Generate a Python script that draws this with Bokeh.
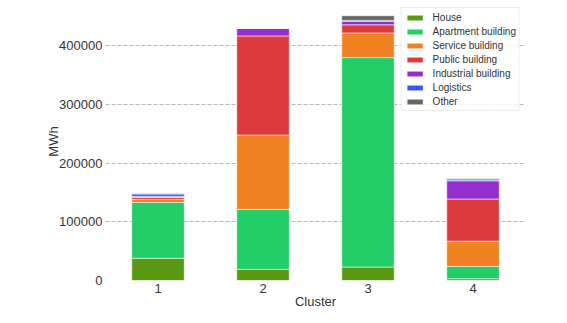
from bokeh.plotting import figure
from bokeh.models import FactorRange, Range1d, NumeralTickFormatter, SingleIntervalTicker, Legend, LegendItem
from bokeh.embed import file_html
from bokeh.resources import INLINE

clusters = ["1", "2", "3", "4"]
house = [38000, 19000, 23000, 3000]
apartment = [95000, 102000, 357000, 21000]
service = [5500, 127000, 42000, 43000]
public = [3000, 169000, 14000, 72000]
industrial = [2000, 13000, 6000, 31000]
logistics = [4000, 0, 1500, 1500]
other = [1000, 0, 8000, 2000]

series_names = ["House", "Apartment building", "Service building", "Public building",
                "Industrial building", "Logistics", "Other"]
keys = ["house", "apartment", "service", "public", "industrial", "logistics", "other"]
colors = ["#5a9a12", "#22cc66", "#f08222", "#dc3a3c", "#942ecc", "#3258ee", "#666666"]

data = dict(cluster=clusters, house=house, apartment=apartment, service=service,
            public=public, industrial=industrial, logistics=logistics, other=other)

FONT = "Liberation Sans"
TXT = "#333333"

p = figure(x_range=FactorRange(*clusters), y_range=Range1d(0, 474000),
           frame_width=420, frame_height=278, width=559, height=315,
           min_border_left=105, min_border_top=2, min_border_right=34, min_border_bottom=35,
           output_backend="svg", toolbar_location=None)

renderers = p.vbar_stack(keys, x="cluster", width=0.5, color=colors, source=data,
                         line_color="white", line_width=0.8, line_alpha=0.7)

p.xgrid.grid_line_color = None
p.ygrid.grid_line_color = "#b8b8b8"
p.ygrid.grid_line_dash = "4 2"
p.ygrid.grid_line_width = 1
p.outline_line_color = None

for ax in (p.xaxis[0], p.yaxis[0]):
    ax.axis_line_color = None
    ax.major_tick_line_color = None
    ax.minor_tick_line_color = None
    ax.major_label_text_font = FONT
    ax.major_label_text_font_size = "13px"
    ax.major_label_text_color = TXT
    ax.axis_label_text_font = FONT
    ax.axis_label_text_font_size = "13px"
    ax.axis_label_text_color = TXT
    ax.axis_label_text_font_style = "normal"

p.yaxis[0].ticker = SingleIntervalTicker(interval=100000)
p.yaxis[0].formatter = NumeralTickFormatter(format="0")
p.yaxis[0].axis_label = "MWh"
p.yaxis[0].major_label_standoff = -3
p.yaxis[0].axis_label_standoff = -5
p.xaxis[0].axis_label = "Cluster"
p.xaxis[0].major_label_standoff = -3
p.xaxis[0].axis_label_standoff = -2

items = [LegendItem(label=n, renderers=[r]) for n, r in zip(series_names, renderers)]
legend = Legend(items=items, location="top_right", margin=5,
                label_text_font=FONT, label_text_font_size="10px", label_text_color=TXT,
                glyph_width=20, glyph_height=7, label_height=12, label_standoff=8,
                spacing=2, padding=3, border_line_color="#dddddd",
                background_fill_color="white", background_fill_alpha=0.85)
p.add_layout(legend)

open("out.html", "w").write(file_html(p, INLINE))
